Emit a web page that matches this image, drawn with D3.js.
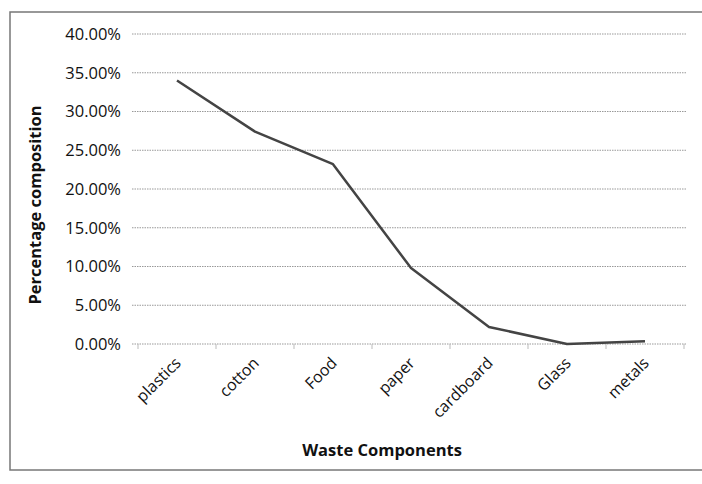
<!DOCTYPE html>
<html>
<head>
<meta charset="utf-8">
<script src="https://cdn.jsdelivr.net/npm/d3@7"></script>
<style>
  body { margin: 0; background: #fff; }
  text { font-family: "Open Sans", sans-serif; fill: #111; }
</style>
</head>
<body>
<div id="chart-area"></div>
<script>
// waste composition data
var categories = ["plastics", "cotton", "Food", "paper", "cardboard", "Glass", "metals"];
var values = [0.340, 0.274, 0.232, 0.098, 0.022, 0.000, 0.0035];
var yTicks = [0, 0.05, 0.10, 0.15, 0.20, 0.25, 0.30, 0.35, 0.40];

var W = 702, H = 484;

var svg = d3.select("#chart-area").append("svg")
    .attr("width", W)
    .attr("height", H);

// outer frame (right edge runs off the picture)
svg.append("rect")
    .attr("x", 10).attr("y", 12)
    .attr("width", 700).attr("height", 458)
    .attr("fill", "none")
    .attr("stroke", "#777")
    .attr("stroke-width", 1.5);

var x = d3.scaleBand()
    .domain(categories)
    .range([138, 684]);

var y = d3.scaleLinear()
    .domain([0, 0.40])
    .range([344, 34]);

// gridlines
svg.append("g")
    .selectAll("line")
    .data(yTicks)
    .enter().append("line")
    .attr("x1", 132)
    .attr("x2", 687)
    .attr("y1", (d) => { return y(d); })
    .attr("y2", (d) => { return y(d); })
    .attr("stroke", "#999")
    .attr("stroke-width", 1)
    .attr("stroke-dasharray", "1.5,1");

// y axis labels
var yAxis = d3.axisLeft(y)
    .tickValues(yTicks)
    .tickSize(0)
    .tickPadding(0)
    .tickFormat(d3.format(".2%"));

var yg = svg.append("g")
    .attr("transform", "translate(121, 0)")
    .call(yAxis);
yg.select(".domain").remove();
yg.selectAll("text")
    .attr("font-size", "16.5px")
    .attr("font-family", "Open Sans, sans-serif")
    .attr("fill", "#111");

// x axis: small ticks at category boundaries
var xg = svg.append("g")
    .attr("transform", "translate(0, 344)");
xg.selectAll("line")
    .data(categories.concat(["end"]))
    .enter().append("line")
    .attr("x1", (d, i) => { return 138 + i * x.step(); })
    .attr("x2", (d, i) => { return 138 + i * x.step(); })
    .attr("y1", 0)
    .attr("y2", 5)
    .attr("stroke", "#bbb");

xg.selectAll("text")
    .data(categories)
    .enter().append("text")
    .attr("transform", (d) => {
        return "translate(" + (x(d) + x.bandwidth() / 2 + 5) + ", 20) rotate(-45)";
    })
    .attr("text-anchor", "end")
    .attr("font-size", "16px")
    .text((d) => { return d; });

// the line
var line = d3.line()
    .x((d, i) => { return x(categories[i]) + x.bandwidth() / 2; })
    .y((d) => { return y(d); });

svg.append("path")
    .datum(values)
    .attr("d", line)
    .attr("fill", "none")
    .attr("stroke", "#444")
    .attr("stroke-width", 2.5)
    .attr("stroke-linejoin", "round");

// axis titles
svg.append("text")
    .attr("x", -205)
    .attr("y", 41)
    .attr("transform", "rotate(-90)")
    .attr("text-anchor", "middle")
    .attr("font-size", "16.5px")
    .attr("font-weight", "bold")
    .text("Percentage  composition");

svg.append("text")
    .attr("x", 382)
    .attr("y", 456)
    .attr("text-anchor", "middle")
    .attr("font-size", "16.5px")
    .attr("font-weight", "bold")
    .text("Waste Components");
</script>
</body>
</html>
